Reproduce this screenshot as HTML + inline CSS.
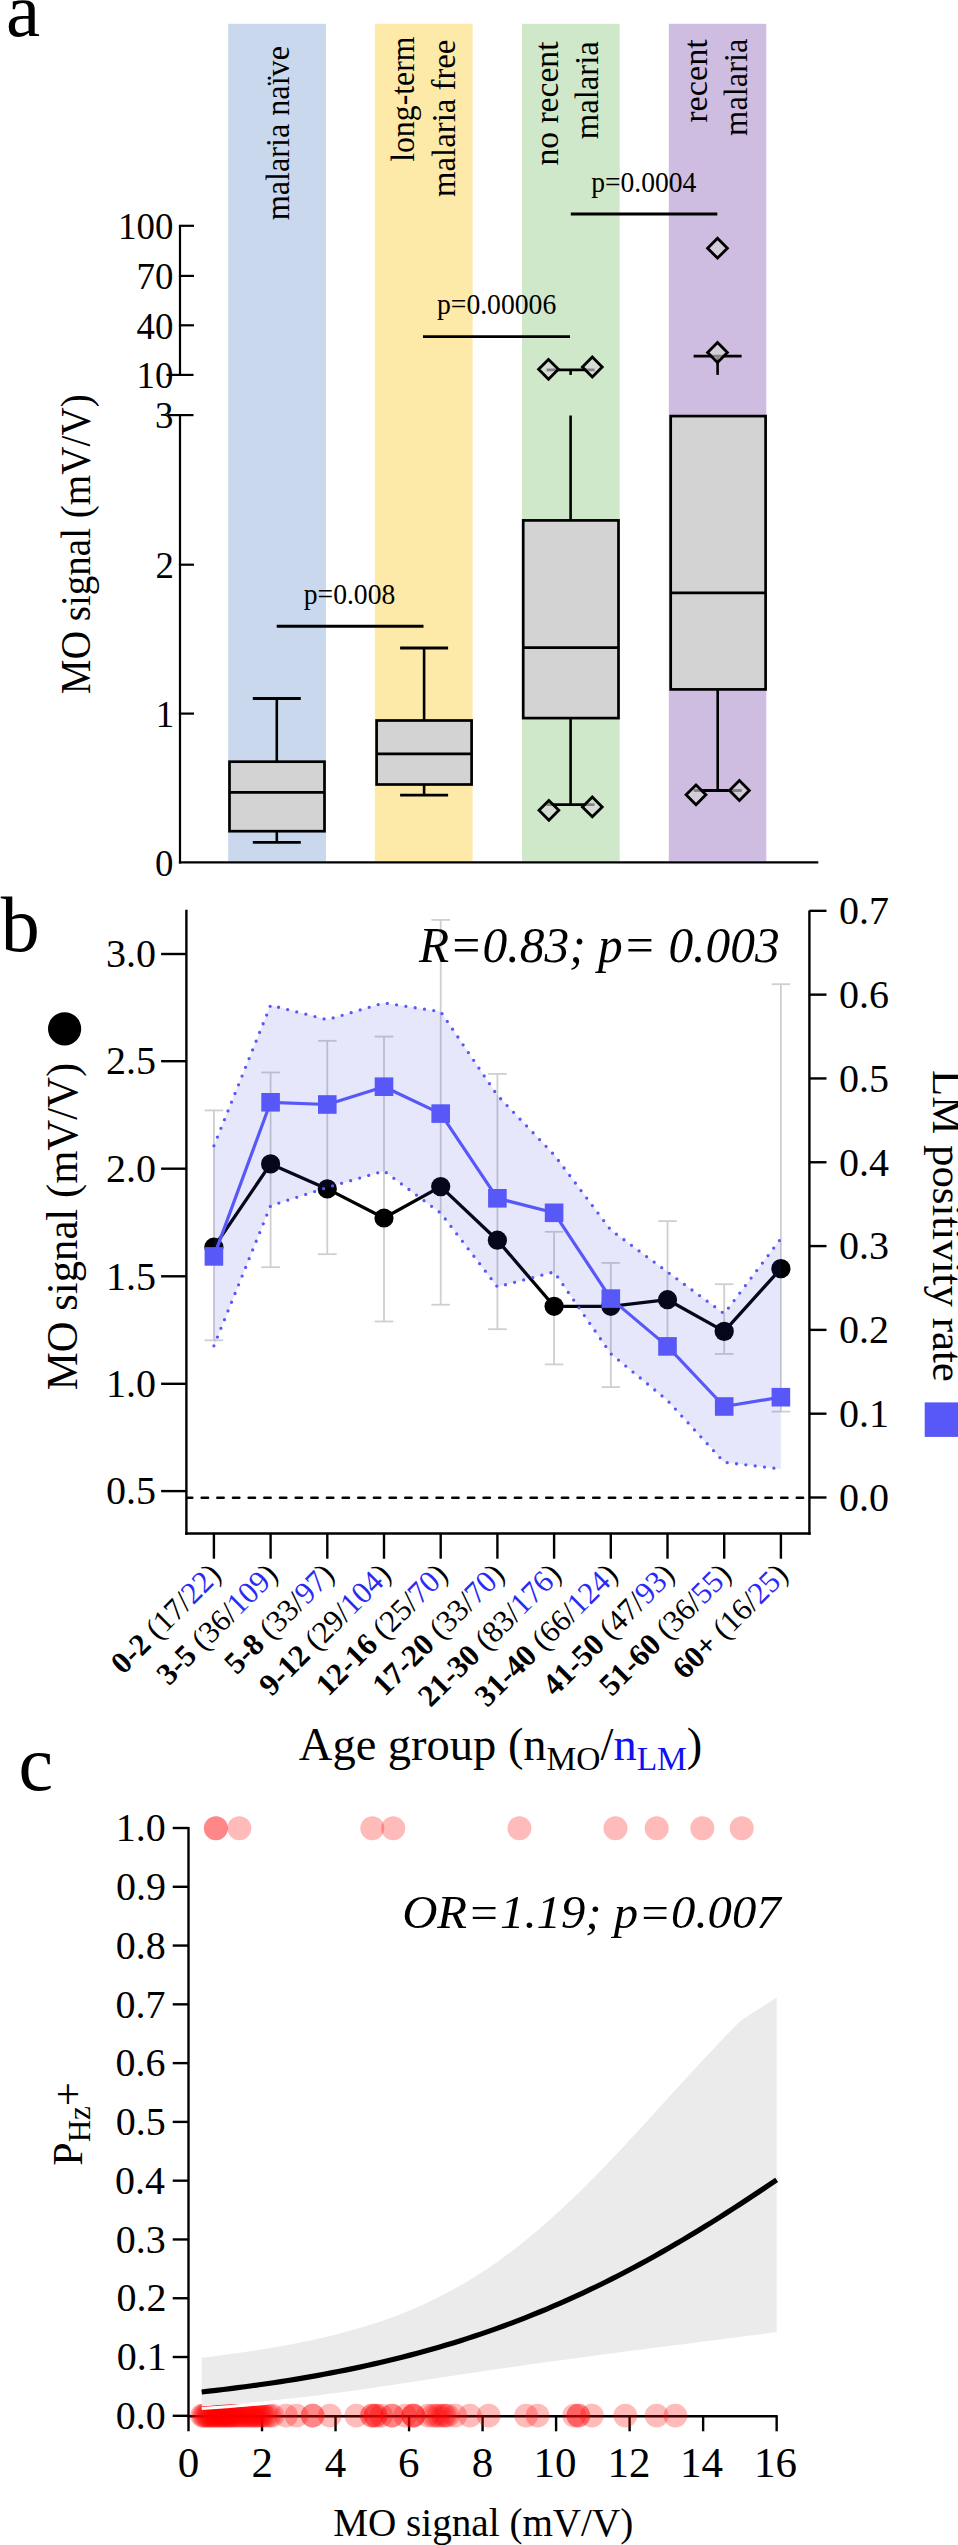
<!DOCTYPE html>
<html><head><meta charset="utf-8"><title>figure</title>
<style>
html,body{margin:0;padding:0;background:#fff;}
svg{display:block;}
text{font-family:"Liberation Serif",serif;font-kerning:none;}
</style></head><body>
<svg width="958" height="2545" viewBox="0 0 958 2545">
<rect width="958" height="2545" fill="#fff"/>
<rect x="228.20" y="23.80" width="97.80" height="837.50" fill="#c9d8ec"/>
<rect x="374.80" y="23.80" width="97.80" height="837.50" fill="#fdeaa8"/>
<rect x="522.00" y="23.80" width="97.70" height="837.50" fill="#cfe8c9"/>
<rect x="668.80" y="23.80" width="97.50" height="837.50" fill="#cebde0"/>
<text transform="translate(288.90,220.28) rotate(-90) scale(0.9332,1)" font-size="34.5"><tspan font-size="34.50">malaria naïve</tspan></text>
<text transform="translate(413.90,161.84) rotate(-90) scale(0.9213,1)" font-size="34.5"><tspan font-size="34.50">long-term</tspan></text>
<text transform="translate(454.60,196.89) rotate(-90) scale(0.9497,1)" font-size="34.5"><tspan font-size="34.50">malaria free</tspan></text>
<text transform="translate(557.90,165.57) rotate(-90) scale(0.9739,1)" font-size="34.5"><tspan font-size="34.50">no recent</tspan></text>
<text transform="translate(597.80,139.19) rotate(-90) scale(0.9468,1)" font-size="34.5"><tspan font-size="34.50">malaria</tspan></text>
<text transform="translate(706.90,122.79) rotate(-90) scale(0.9920,1)" font-size="34.5"><tspan font-size="34.50">recent</tspan></text>
<text transform="translate(747.30,135.88) rotate(-90) scale(0.9419,1)" font-size="34.5"><tspan font-size="34.50">malaria</tspan></text>
<text transform="translate(5.89,36.30)" font-size="77"><tspan font-size="77.00">a</tspan></text>
<line x1="180.00" y1="415.10" x2="180.00" y2="863.40" stroke="#000" stroke-width="2.2"/>
<line x1="180.00" y1="225.80" x2="180.00" y2="374.90" stroke="#000" stroke-width="2.2"/>
<line x1="178.90" y1="862.30" x2="818.30" y2="862.30" stroke="#000" stroke-width="2.2"/>
<line x1="178.90" y1="225.80" x2="194.00" y2="225.80" stroke="#000" stroke-width="2.2"/>
<line x1="178.90" y1="275.90" x2="194.00" y2="275.90" stroke="#000" stroke-width="2.2"/>
<line x1="178.90" y1="325.30" x2="194.00" y2="325.30" stroke="#000" stroke-width="2.2"/>
<line x1="166.50" y1="374.90" x2="193.50" y2="374.90" stroke="#000" stroke-width="2.2"/>
<line x1="167.50" y1="415.10" x2="193.50" y2="415.10" stroke="#000" stroke-width="2.2"/>
<line x1="178.90" y1="564.70" x2="194.00" y2="564.70" stroke="#000" stroke-width="2.2"/>
<line x1="178.90" y1="713.60" x2="194.00" y2="713.60" stroke="#000" stroke-width="2.2"/>
<text transform="translate(118.11,239.18) scale(0.9700,1)" font-size="38.0"><tspan font-size="38.00">100</tspan></text>
<text transform="translate(136.54,289.28) scale(0.9700,1)" font-size="38.0"><tspan font-size="38.00">70</tspan></text>
<text transform="translate(136.54,338.68) scale(0.9700,1)" font-size="38.0"><tspan font-size="38.00">40</tspan></text>
<text transform="translate(136.54,388.28) scale(0.9700,1)" font-size="38.0"><tspan font-size="38.00">10</tspan></text>
<text transform="translate(155.01,428.48) scale(0.9700,1)" font-size="38.0"><tspan font-size="38.00">3</tspan></text>
<text transform="translate(155.60,578.08) scale(0.9700,1)" font-size="38.0"><tspan font-size="38.00">2</tspan></text>
<text transform="translate(155.78,726.98) scale(0.9700,1)" font-size="38.0"><tspan font-size="38.00">1</tspan></text>
<text transform="translate(154.97,875.68) scale(0.9700,1)" font-size="38.0"><tspan font-size="38.00">0</tspan></text>
<text transform="translate(89.60,694.13) rotate(-90) scale(0.9160,1)" font-size="42.7"><tspan font-size="42.70">MO signal (mV/V)</tspan></text>
<line x1="276.80" y1="761.70" x2="276.80" y2="698.50" stroke="#000" stroke-width="2.6"/>
<line x1="252.80" y1="698.50" x2="300.80" y2="698.50" stroke="#000" stroke-width="2.8"/>
<line x1="276.80" y1="831.20" x2="276.80" y2="842.30" stroke="#000" stroke-width="2.6"/>
<line x1="252.80" y1="842.30" x2="300.80" y2="842.30" stroke="#000" stroke-width="2.8"/>
<rect x="229.50" y="761.70" width="95.00" height="69.50" fill="#d3d3d3" stroke="#000" stroke-width="2.7"/>
<line x1="229.50" y1="792.40" x2="324.50" y2="792.40" stroke="#000" stroke-width="2.7"/>
<line x1="424.10" y1="720.50" x2="424.10" y2="648.00" stroke="#000" stroke-width="2.6"/>
<line x1="400.10" y1="648.00" x2="448.10" y2="648.00" stroke="#000" stroke-width="2.8"/>
<line x1="424.10" y1="784.50" x2="424.10" y2="795.10" stroke="#000" stroke-width="2.6"/>
<line x1="400.10" y1="795.10" x2="448.10" y2="795.10" stroke="#000" stroke-width="2.8"/>
<rect x="376.60" y="720.50" width="95.00" height="64.00" fill="#d3d3d3" stroke="#000" stroke-width="2.7"/>
<line x1="376.60" y1="753.90" x2="471.60" y2="753.90" stroke="#000" stroke-width="2.7"/>
<line x1="570.60" y1="520.40" x2="570.60" y2="415.50" stroke="#000" stroke-width="2.6"/>
<line x1="570.60" y1="718.10" x2="570.60" y2="804.60" stroke="#000" stroke-width="2.6"/>
<line x1="546.60" y1="804.60" x2="594.60" y2="804.60" stroke="#000" stroke-width="2.8"/>
<rect x="523.20" y="520.40" width="95.30" height="197.70" fill="#d3d3d3" stroke="#000" stroke-width="2.7"/>
<line x1="523.20" y1="647.60" x2="618.50" y2="647.60" stroke="#000" stroke-width="2.7"/>
<line x1="570.60" y1="374.90" x2="570.60" y2="369.80" stroke="#000" stroke-width="2.6"/>
<line x1="546.60" y1="369.80" x2="594.60" y2="369.80" stroke="#000" stroke-width="2.8"/>
<path d="M548.50 359.40 L558.40 369.30 L548.50 379.20 L538.60 369.30 Z" fill="rgba(215,215,215,0.62)" stroke="#000" stroke-width="2.8" stroke-linejoin="miter"/>
<path d="M592.30 357.10 L602.20 367.00 L592.30 376.90 L582.40 367.00 Z" fill="rgba(215,215,215,0.62)" stroke="#000" stroke-width="2.8" stroke-linejoin="miter"/>
<path d="M548.90 800.40 L558.80 810.30 L548.90 820.20 L539.00 810.30 Z" fill="rgba(215,215,215,0.62)" stroke="#000" stroke-width="2.8" stroke-linejoin="miter"/>
<path d="M592.30 797.00 L602.20 806.90 L592.30 816.80 L582.40 806.90 Z" fill="rgba(215,215,215,0.62)" stroke="#000" stroke-width="2.8" stroke-linejoin="miter"/>
<line x1="717.70" y1="689.40" x2="717.70" y2="790.50" stroke="#000" stroke-width="2.6"/>
<line x1="693.70" y1="790.50" x2="741.70" y2="790.50" stroke="#000" stroke-width="2.8"/>
<rect x="670.70" y="416.10" width="94.90" height="273.30" fill="#d3d3d3" stroke="#000" stroke-width="2.7"/>
<line x1="670.70" y1="592.80" x2="765.60" y2="592.80" stroke="#000" stroke-width="2.7"/>
<line x1="717.60" y1="374.90" x2="717.60" y2="356.20" stroke="#000" stroke-width="2.6"/>
<line x1="693.60" y1="356.20" x2="741.60" y2="356.20" stroke="#000" stroke-width="2.8"/>
<path d="M717.50 342.60 L727.40 352.50 L717.50 362.40 L707.60 352.50 Z" fill="rgba(215,215,215,0.62)" stroke="#000" stroke-width="2.8" stroke-linejoin="miter"/>
<path d="M717.50 238.30 L727.40 248.20 L717.50 258.10 L707.60 248.20 Z" fill="rgba(215,215,215,0.62)" stroke="#000" stroke-width="2.8" stroke-linejoin="miter"/>
<path d="M696.00 784.90 L705.90 794.80 L696.00 804.70 L686.10 794.80 Z" fill="rgba(215,215,215,0.62)" stroke="#000" stroke-width="2.8" stroke-linejoin="miter"/>
<path d="M739.40 780.60 L749.30 790.50 L739.40 800.40 L729.50 790.50 Z" fill="rgba(215,215,215,0.62)" stroke="#000" stroke-width="2.8" stroke-linejoin="miter"/>
<line x1="276.70" y1="626.20" x2="423.50" y2="626.20" stroke="#000" stroke-width="2.9"/>
<line x1="423.00" y1="336.60" x2="570.00" y2="336.60" stroke="#000" stroke-width="2.9"/>
<line x1="570.80" y1="214.00" x2="717.30" y2="214.00" stroke="#000" stroke-width="2.9"/>
<text transform="translate(303.75,604.20) scale(0.9213,1)" font-size="30"><tspan font-size="30.00">p=0.008</tspan></text>
<text transform="translate(436.95,313.60) scale(0.9224,1)" font-size="30"><tspan font-size="30.00">p=0.00006</tspan></text>
<text transform="translate(591.26,191.50) scale(0.9192,1)" font-size="30"><tspan font-size="30.00">p=0.0004</tspan></text>
<text transform="translate(0.80,951.20)" font-size="78"><tspan font-size="78.00">b</tspan></text>
<line x1="213.90" y1="1110.40" x2="213.90" y2="1340.30" stroke="#cfcfcf" stroke-width="1.8"/>
<line x1="204.60" y1="1110.40" x2="223.20" y2="1110.40" stroke="#cfcfcf" stroke-width="1.8"/>
<line x1="204.60" y1="1340.30" x2="223.20" y2="1340.30" stroke="#cfcfcf" stroke-width="1.8"/>
<line x1="270.60" y1="1072.50" x2="270.60" y2="1267.20" stroke="#cfcfcf" stroke-width="1.8"/>
<line x1="261.30" y1="1072.50" x2="279.90" y2="1072.50" stroke="#cfcfcf" stroke-width="1.8"/>
<line x1="261.30" y1="1267.20" x2="279.90" y2="1267.20" stroke="#cfcfcf" stroke-width="1.8"/>
<line x1="327.30" y1="1040.80" x2="327.30" y2="1254.20" stroke="#cfcfcf" stroke-width="1.8"/>
<line x1="318.00" y1="1040.80" x2="336.60" y2="1040.80" stroke="#cfcfcf" stroke-width="1.8"/>
<line x1="318.00" y1="1254.20" x2="336.60" y2="1254.20" stroke="#cfcfcf" stroke-width="1.8"/>
<line x1="384.00" y1="1036.60" x2="384.00" y2="1321.50" stroke="#cfcfcf" stroke-width="1.8"/>
<line x1="374.70" y1="1036.60" x2="393.30" y2="1036.60" stroke="#cfcfcf" stroke-width="1.8"/>
<line x1="374.70" y1="1321.50" x2="393.30" y2="1321.50" stroke="#cfcfcf" stroke-width="1.8"/>
<line x1="440.70" y1="919.90" x2="440.70" y2="1304.70" stroke="#cfcfcf" stroke-width="1.8"/>
<line x1="431.40" y1="919.90" x2="450.00" y2="919.90" stroke="#cfcfcf" stroke-width="1.8"/>
<line x1="431.40" y1="1304.70" x2="450.00" y2="1304.70" stroke="#cfcfcf" stroke-width="1.8"/>
<line x1="497.40" y1="1073.90" x2="497.40" y2="1329.20" stroke="#cfcfcf" stroke-width="1.8"/>
<line x1="488.10" y1="1073.90" x2="506.70" y2="1073.90" stroke="#cfcfcf" stroke-width="1.8"/>
<line x1="488.10" y1="1329.20" x2="506.70" y2="1329.20" stroke="#cfcfcf" stroke-width="1.8"/>
<line x1="554.10" y1="1231.80" x2="554.10" y2="1364.40" stroke="#cfcfcf" stroke-width="1.8"/>
<line x1="544.80" y1="1231.80" x2="563.40" y2="1231.80" stroke="#cfcfcf" stroke-width="1.8"/>
<line x1="544.80" y1="1364.40" x2="563.40" y2="1364.40" stroke="#cfcfcf" stroke-width="1.8"/>
<line x1="610.80" y1="1262.90" x2="610.80" y2="1387.10" stroke="#cfcfcf" stroke-width="1.8"/>
<line x1="601.50" y1="1262.90" x2="620.10" y2="1262.90" stroke="#cfcfcf" stroke-width="1.8"/>
<line x1="601.50" y1="1387.10" x2="620.10" y2="1387.10" stroke="#cfcfcf" stroke-width="1.8"/>
<line x1="667.50" y1="1221.10" x2="667.50" y2="1346.00" stroke="#cfcfcf" stroke-width="1.8"/>
<line x1="658.20" y1="1221.10" x2="676.80" y2="1221.10" stroke="#cfcfcf" stroke-width="1.8"/>
<line x1="658.20" y1="1346.00" x2="676.80" y2="1346.00" stroke="#cfcfcf" stroke-width="1.8"/>
<line x1="724.20" y1="1284.20" x2="724.20" y2="1353.90" stroke="#cfcfcf" stroke-width="1.8"/>
<line x1="714.90" y1="1284.20" x2="733.50" y2="1284.20" stroke="#cfcfcf" stroke-width="1.8"/>
<line x1="714.90" y1="1353.90" x2="733.50" y2="1353.90" stroke="#cfcfcf" stroke-width="1.8"/>
<line x1="780.90" y1="984.20" x2="780.90" y2="1411.60" stroke="#cfcfcf" stroke-width="1.8"/>
<line x1="771.60" y1="984.20" x2="790.20" y2="984.20" stroke="#cfcfcf" stroke-width="1.8"/>
<line x1="771.60" y1="1411.60" x2="790.20" y2="1411.60" stroke="#cfcfcf" stroke-width="1.8"/>
<text transform="translate(419.07,962.20) scale(0.9789,1)" font-size="50.5"><tspan font-size="50.50" font-style="italic">R=0.83; p= 0.003</tspan></text>
<polyline points="213.90,1247.20 270.60,1163.90 327.30,1188.90 384.00,1218.00 440.70,1186.60 497.40,1240.20 554.10,1306.30 610.80,1306.30 667.50,1299.70 724.20,1331.40 780.90,1268.60" fill="none" stroke="#000" stroke-width="3.3" stroke-linejoin="round"/>
<circle cx="213.90" cy="1247.20" r="9.6" fill="#000"/>
<circle cx="270.60" cy="1163.90" r="9.6" fill="#000"/>
<circle cx="327.30" cy="1188.90" r="9.6" fill="#000"/>
<circle cx="384.00" cy="1218.00" r="9.6" fill="#000"/>
<circle cx="440.70" cy="1186.60" r="9.6" fill="#000"/>
<circle cx="497.40" cy="1240.20" r="9.6" fill="#000"/>
<circle cx="554.10" cy="1306.30" r="9.6" fill="#000"/>
<circle cx="610.80" cy="1306.30" r="9.6" fill="#000"/>
<circle cx="667.50" cy="1299.70" r="9.6" fill="#000"/>
<circle cx="724.20" cy="1331.40" r="9.6" fill="#000"/>
<circle cx="780.90" cy="1268.60" r="9.6" fill="#000"/>
<polygon points="213.90,1145.80 270.60,1005.20 327.30,1019.70 384.00,1002.90 440.70,1011.70 497.40,1095.40 554.10,1154.80 610.80,1230.00 667.50,1272.00 724.20,1313.70 780.90,1238.50 780.90,1469.00 724.20,1462.30 667.50,1400.50 610.80,1353.70 554.10,1271.90 497.40,1286.90 440.70,1213.10 384.00,1171.00 327.30,1187.50 270.60,1205.70 213.90,1345.80" fill="rgb(60,60,230)" fill-opacity="0.12"/>
<polyline points="213.90,1145.80 270.60,1005.20 327.30,1019.70 384.00,1002.90 440.70,1011.70 497.40,1095.40 554.10,1154.80 610.80,1230.00 667.50,1272.00 724.20,1313.70 780.90,1238.50" fill="none" stroke="#5858f8" stroke-width="3.3" stroke-linecap="round" stroke-dasharray="0 9.4"/>
<polyline points="213.90,1345.80 270.60,1205.70 327.30,1187.50 384.00,1171.00 440.70,1213.10 497.40,1286.90 554.10,1271.90 610.80,1353.70 667.50,1400.50 724.20,1462.30 780.90,1469.00" fill="none" stroke="#5858f8" stroke-width="3.3" stroke-linecap="round" stroke-dasharray="0 9.4"/>
<polyline points="213.90,1256.40 270.60,1102.30 327.30,1104.50 384.00,1086.70 440.70,1113.60 497.40,1198.30 554.10,1212.80 610.80,1298.60 667.50,1346.40 724.20,1406.50 780.90,1397.20" fill="none" stroke="#5858f8" stroke-width="3.2" stroke-linejoin="round"/>
<rect x="204.60" y="1247.10" width="18.60" height="18.60" fill="#5858f8"/>
<rect x="261.30" y="1093.00" width="18.60" height="18.60" fill="#5858f8"/>
<rect x="318.00" y="1095.20" width="18.60" height="18.60" fill="#5858f8"/>
<rect x="374.70" y="1077.40" width="18.60" height="18.60" fill="#5858f8"/>
<rect x="431.40" y="1104.30" width="18.60" height="18.60" fill="#5858f8"/>
<rect x="488.10" y="1189.00" width="18.60" height="18.60" fill="#5858f8"/>
<rect x="544.80" y="1203.50" width="18.60" height="18.60" fill="#5858f8"/>
<rect x="601.50" y="1289.30" width="18.60" height="18.60" fill="#5858f8"/>
<rect x="658.20" y="1337.10" width="18.60" height="18.60" fill="#5858f8"/>
<rect x="714.90" y="1397.20" width="18.60" height="18.60" fill="#5858f8"/>
<rect x="771.60" y="1387.90" width="18.60" height="18.60" fill="#5858f8"/>
<line x1="188.00" y1="1497.70" x2="803.50" y2="1497.70" stroke="#000" stroke-width="2.6" stroke-dasharray="6.3 9.36" stroke-linecap="round" stroke-dashoffset="1.96"/>
<line x1="186.40" y1="909.70" x2="186.40" y2="1534.70" stroke="#000" stroke-width="2.4"/>
<line x1="809.40" y1="910.60" x2="809.40" y2="1534.70" stroke="#000" stroke-width="2.4"/>
<line x1="185.20" y1="1533.50" x2="810.60" y2="1533.50" stroke="#000" stroke-width="2.5"/>
<line x1="161.10" y1="954.00" x2="186.40" y2="954.00" stroke="#000" stroke-width="2.4"/>
<line x1="161.10" y1="1061.20" x2="186.40" y2="1061.20" stroke="#000" stroke-width="2.4"/>
<line x1="161.10" y1="1168.70" x2="186.40" y2="1168.70" stroke="#000" stroke-width="2.4"/>
<line x1="161.10" y1="1276.30" x2="186.40" y2="1276.30" stroke="#000" stroke-width="2.4"/>
<line x1="161.10" y1="1383.80" x2="186.40" y2="1383.80" stroke="#000" stroke-width="2.4"/>
<line x1="161.10" y1="1491.10" x2="186.40" y2="1491.10" stroke="#000" stroke-width="2.4"/>
<line x1="809.40" y1="1497.50" x2="826.50" y2="1497.50" stroke="#000" stroke-width="2.4"/>
<line x1="809.40" y1="1413.69" x2="826.50" y2="1413.69" stroke="#000" stroke-width="2.4"/>
<line x1="809.40" y1="1329.88" x2="826.50" y2="1329.88" stroke="#000" stroke-width="2.4"/>
<line x1="809.40" y1="1246.07" x2="826.50" y2="1246.07" stroke="#000" stroke-width="2.4"/>
<line x1="809.40" y1="1162.26" x2="826.50" y2="1162.26" stroke="#000" stroke-width="2.4"/>
<line x1="809.40" y1="1078.45" x2="826.50" y2="1078.45" stroke="#000" stroke-width="2.4"/>
<line x1="809.40" y1="994.64" x2="826.50" y2="994.64" stroke="#000" stroke-width="2.4"/>
<line x1="809.40" y1="910.83" x2="826.50" y2="910.83" stroke="#000" stroke-width="2.4"/>
<line x1="213.90" y1="1533.50" x2="213.90" y2="1558.70" stroke="#000" stroke-width="2.4"/>
<line x1="270.60" y1="1533.50" x2="270.60" y2="1558.70" stroke="#000" stroke-width="2.4"/>
<line x1="327.30" y1="1533.50" x2="327.30" y2="1558.70" stroke="#000" stroke-width="2.4"/>
<line x1="384.00" y1="1533.50" x2="384.00" y2="1558.70" stroke="#000" stroke-width="2.4"/>
<line x1="440.70" y1="1533.50" x2="440.70" y2="1558.70" stroke="#000" stroke-width="2.4"/>
<line x1="497.40" y1="1533.50" x2="497.40" y2="1558.70" stroke="#000" stroke-width="2.4"/>
<line x1="554.10" y1="1533.50" x2="554.10" y2="1558.70" stroke="#000" stroke-width="2.4"/>
<line x1="610.80" y1="1533.50" x2="610.80" y2="1558.70" stroke="#000" stroke-width="2.4"/>
<line x1="667.50" y1="1533.50" x2="667.50" y2="1558.70" stroke="#000" stroke-width="2.4"/>
<line x1="724.20" y1="1533.50" x2="724.20" y2="1558.70" stroke="#000" stroke-width="2.4"/>
<line x1="780.90" y1="1533.50" x2="780.90" y2="1558.70" stroke="#000" stroke-width="2.4"/>
<text transform="translate(105.92,967.24)" font-size="40"><tspan font-size="40.00">3.0</tspan></text>
<text transform="translate(105.96,1074.44)" font-size="40"><tspan font-size="40.00">2.5</tspan></text>
<text transform="translate(105.92,1181.94)" font-size="40"><tspan font-size="40.00">2.0</tspan></text>
<text transform="translate(105.96,1289.54)" font-size="40"><tspan font-size="40.00">1.5</tspan></text>
<text transform="translate(105.92,1397.04)" font-size="40"><tspan font-size="40.00">1.0</tspan></text>
<text transform="translate(105.96,1504.34)" font-size="40"><tspan font-size="40.00">0.5</tspan></text>
<text transform="translate(838.98,1510.74)" font-size="40"><tspan font-size="40.00">0.0</tspan></text>
<text transform="translate(838.98,1426.93)" font-size="40"><tspan font-size="40.00">0.1</tspan></text>
<text transform="translate(838.98,1343.12)" font-size="40"><tspan font-size="40.00">0.2</tspan></text>
<text transform="translate(838.98,1259.31)" font-size="40"><tspan font-size="40.00">0.3</tspan></text>
<text transform="translate(838.98,1175.50)" font-size="40"><tspan font-size="40.00">0.4</tspan></text>
<text transform="translate(838.98,1091.69)" font-size="40"><tspan font-size="40.00">0.5</tspan></text>
<text transform="translate(838.98,1007.88)" font-size="40"><tspan font-size="40.00">0.6</tspan></text>
<text transform="translate(838.98,924.07)" font-size="40"><tspan font-size="40.00">0.7</tspan></text>
<text transform="translate(76.90,1390.33) rotate(-90) scale(0.9821,1)" font-size="43.5"><tspan font-size="43.50">MO signal (mV/V)</tspan></text>
<circle cx="64.6" cy="1028.8" r="16.6" fill="#000"/>
<text transform="translate(932.60,1069.97) rotate(90) scale(1.0015,1)" font-size="42.8"><tspan font-size="42.80">LM positivity rate</tspan></text>
<rect x="924.70" y="1402.40" width="34.50" height="34.50" fill="#5858f8"/>
<text transform="translate(222.50,1576.20) rotate(-45) translate(-140.33,0)" font-size="31.0"><tspan font-size="31.00" font-weight="bold">0-2</tspan><tspan font-size="31.00"> (17/</tspan><tspan font-size="31.00" fill="#2a2af5">22</tspan><tspan font-size="31.00">)</tspan></text>
<text transform="translate(279.20,1576.20) rotate(-45) translate(-155.83,0)" font-size="31.0"><tspan font-size="31.00" font-weight="bold">3-5</tspan><tspan font-size="31.00"> (36/</tspan><tspan font-size="31.00" fill="#2a2af5">109</tspan><tspan font-size="31.00">)</tspan></text>
<text transform="translate(335.90,1576.20) rotate(-45) translate(-140.33,0)" font-size="31.0"><tspan font-size="31.00" font-weight="bold">5-8</tspan><tspan font-size="31.00"> (33/</tspan><tspan font-size="31.00" fill="#2a2af5">97</tspan><tspan font-size="31.00">)</tspan></text>
<text transform="translate(392.60,1576.20) rotate(-45) translate(-171.33,0)" font-size="31.0"><tspan font-size="31.00" font-weight="bold">9-12</tspan><tspan font-size="31.00"> (29/</tspan><tspan font-size="31.00" fill="#2a2af5">104</tspan><tspan font-size="31.00">)</tspan></text>
<text transform="translate(449.30,1576.20) rotate(-45) translate(-171.33,0)" font-size="31.0"><tspan font-size="31.00" font-weight="bold">12-16</tspan><tspan font-size="31.00"> (25/</tspan><tspan font-size="31.00" fill="#2a2af5">70</tspan><tspan font-size="31.00">)</tspan></text>
<text transform="translate(506.00,1576.20) rotate(-45) translate(-171.33,0)" font-size="31.0"><tspan font-size="31.00" font-weight="bold">17-20</tspan><tspan font-size="31.00"> (33/</tspan><tspan font-size="31.00" fill="#2a2af5">70</tspan><tspan font-size="31.00">)</tspan></text>
<text transform="translate(562.70,1576.20) rotate(-45) translate(-186.83,0)" font-size="31.0"><tspan font-size="31.00" font-weight="bold">21-30</tspan><tspan font-size="31.00"> (83/</tspan><tspan font-size="31.00" fill="#2a2af5">176</tspan><tspan font-size="31.00">)</tspan></text>
<text transform="translate(619.40,1576.20) rotate(-45) translate(-186.83,0)" font-size="31.0"><tspan font-size="31.00" font-weight="bold">31-40</tspan><tspan font-size="31.00"> (66/</tspan><tspan font-size="31.00" fill="#2a2af5">124</tspan><tspan font-size="31.00">)</tspan></text>
<text transform="translate(676.10,1576.20) rotate(-45) translate(-171.33,0)" font-size="31.0"><tspan font-size="31.00" font-weight="bold">41-50</tspan><tspan font-size="31.00"> (47/</tspan><tspan font-size="31.00" fill="#2a2af5">93</tspan><tspan font-size="31.00">)</tspan></text>
<text transform="translate(732.80,1576.20) rotate(-45) translate(-171.33,0)" font-size="31.0"><tspan font-size="31.00" font-weight="bold">51-60</tspan><tspan font-size="31.00"> (36/</tspan><tspan font-size="31.00" fill="#2a2af5">55</tspan><tspan font-size="31.00">)</tspan></text>
<text transform="translate(789.50,1576.20) rotate(-45) translate(-147.67,0)" font-size="31.0"><tspan font-size="31.00" font-weight="bold">60+</tspan><tspan font-size="31.00"> (16/</tspan><tspan font-size="31.00" fill="#2a2af5">25</tspan><tspan font-size="31.00">)</tspan></text>
<text transform="translate(298.85,1759.60) scale(1.0037,1)" font-size="46.3"><tspan font-size="46.30">Age group (n</tspan><tspan font-size="33.34" dy="10.00">MO</tspan><tspan font-size="46.30" dy="-10.00">/</tspan><tspan font-size="46.30" fill="#1010f0">n</tspan><tspan font-size="33.34" fill="#1010f0" dy="10.00">LM</tspan><tspan font-size="46.30" dy="-10.00">)</tspan></text>
<text transform="translate(18.43,1790.20)" font-size="78"><tspan font-size="78.00">c</tspan></text>
<line x1="188.50" y1="1827.00" x2="188.50" y2="2431.30" stroke="#000" stroke-width="2.4"/>
<line x1="187.30" y1="2416.20" x2="777.70" y2="2416.20" stroke="#000" stroke-width="2.4"/>
<line x1="172.70" y1="2415.80" x2="188.50" y2="2415.80" stroke="#000" stroke-width="2.4"/>
<line x1="172.70" y1="2357.02" x2="188.50" y2="2357.02" stroke="#000" stroke-width="2.4"/>
<line x1="172.70" y1="2298.24" x2="188.50" y2="2298.24" stroke="#000" stroke-width="2.4"/>
<line x1="172.70" y1="2239.46" x2="188.50" y2="2239.46" stroke="#000" stroke-width="2.4"/>
<line x1="172.70" y1="2180.68" x2="188.50" y2="2180.68" stroke="#000" stroke-width="2.4"/>
<line x1="172.70" y1="2121.90" x2="188.50" y2="2121.90" stroke="#000" stroke-width="2.4"/>
<line x1="172.70" y1="2063.12" x2="188.50" y2="2063.12" stroke="#000" stroke-width="2.4"/>
<line x1="172.70" y1="2004.34" x2="188.50" y2="2004.34" stroke="#000" stroke-width="2.4"/>
<line x1="172.70" y1="1945.56" x2="188.50" y2="1945.56" stroke="#000" stroke-width="2.4"/>
<line x1="172.70" y1="1886.78" x2="188.50" y2="1886.78" stroke="#000" stroke-width="2.4"/>
<line x1="172.70" y1="1828.00" x2="188.50" y2="1828.00" stroke="#000" stroke-width="2.4"/>
<line x1="262.02" y1="2416.20" x2="262.02" y2="2431.30" stroke="#000" stroke-width="2.4"/>
<line x1="335.54" y1="2416.20" x2="335.54" y2="2431.30" stroke="#000" stroke-width="2.4"/>
<line x1="409.06" y1="2416.20" x2="409.06" y2="2431.30" stroke="#000" stroke-width="2.4"/>
<line x1="482.58" y1="2416.20" x2="482.58" y2="2431.30" stroke="#000" stroke-width="2.4"/>
<line x1="556.10" y1="2416.20" x2="556.10" y2="2431.30" stroke="#000" stroke-width="2.4"/>
<line x1="629.62" y1="2416.20" x2="629.62" y2="2431.30" stroke="#000" stroke-width="2.4"/>
<line x1="703.14" y1="2416.20" x2="703.14" y2="2431.30" stroke="#000" stroke-width="2.4"/>
<line x1="776.66" y1="2416.20" x2="776.66" y2="2431.30" stroke="#000" stroke-width="2.4"/>
<circle cx="202.00" cy="2415.6" r="11.9" fill="rgba(255,0,0,0.27)"/>
<circle cx="203.50" cy="2415.6" r="11.9" fill="rgba(255,0,0,0.27)"/>
<circle cx="205.00" cy="2415.6" r="11.9" fill="rgba(255,0,0,0.27)"/>
<circle cx="206.50" cy="2415.6" r="11.9" fill="rgba(255,0,0,0.27)"/>
<circle cx="208.00" cy="2415.6" r="11.9" fill="rgba(255,0,0,0.27)"/>
<circle cx="209.50" cy="2415.6" r="11.9" fill="rgba(255,0,0,0.27)"/>
<circle cx="211.00" cy="2415.6" r="11.9" fill="rgba(255,0,0,0.27)"/>
<circle cx="212.50" cy="2415.6" r="11.9" fill="rgba(255,0,0,0.27)"/>
<circle cx="214.00" cy="2415.6" r="11.9" fill="rgba(255,0,0,0.27)"/>
<circle cx="215.50" cy="2415.6" r="11.9" fill="rgba(255,0,0,0.27)"/>
<circle cx="217.00" cy="2415.6" r="11.9" fill="rgba(255,0,0,0.27)"/>
<circle cx="218.50" cy="2415.6" r="11.9" fill="rgba(255,0,0,0.27)"/>
<circle cx="220.00" cy="2415.6" r="11.9" fill="rgba(255,0,0,0.27)"/>
<circle cx="221.50" cy="2415.6" r="11.9" fill="rgba(255,0,0,0.27)"/>
<circle cx="223.00" cy="2415.6" r="11.9" fill="rgba(255,0,0,0.27)"/>
<circle cx="224.50" cy="2415.6" r="11.9" fill="rgba(255,0,0,0.27)"/>
<circle cx="226.00" cy="2415.6" r="11.9" fill="rgba(255,0,0,0.27)"/>
<circle cx="227.50" cy="2415.6" r="11.9" fill="rgba(255,0,0,0.27)"/>
<circle cx="229.00" cy="2415.6" r="11.9" fill="rgba(255,0,0,0.27)"/>
<circle cx="230.50" cy="2415.6" r="11.9" fill="rgba(255,0,0,0.27)"/>
<circle cx="232.00" cy="2415.6" r="11.9" fill="rgba(255,0,0,0.27)"/>
<circle cx="233.50" cy="2415.6" r="11.9" fill="rgba(255,0,0,0.27)"/>
<circle cx="235.50" cy="2415.6" r="11.9" fill="rgba(255,0,0,0.27)"/>
<circle cx="237.50" cy="2415.6" r="11.9" fill="rgba(255,0,0,0.27)"/>
<circle cx="239.50" cy="2415.6" r="11.9" fill="rgba(255,0,0,0.27)"/>
<circle cx="241.50" cy="2415.6" r="11.9" fill="rgba(255,0,0,0.27)"/>
<circle cx="243.50" cy="2415.6" r="11.9" fill="rgba(255,0,0,0.27)"/>
<circle cx="245.50" cy="2415.6" r="11.9" fill="rgba(255,0,0,0.27)"/>
<circle cx="247.50" cy="2415.6" r="11.9" fill="rgba(255,0,0,0.27)"/>
<circle cx="249.50" cy="2415.6" r="11.9" fill="rgba(255,0,0,0.27)"/>
<circle cx="251.50" cy="2415.6" r="11.9" fill="rgba(255,0,0,0.27)"/>
<circle cx="253.50" cy="2415.6" r="11.9" fill="rgba(255,0,0,0.27)"/>
<circle cx="255.50" cy="2415.6" r="11.9" fill="rgba(255,0,0,0.27)"/>
<circle cx="257.50" cy="2415.6" r="11.9" fill="rgba(255,0,0,0.27)"/>
<circle cx="259.50" cy="2415.6" r="11.9" fill="rgba(255,0,0,0.27)"/>
<circle cx="261.50" cy="2415.6" r="11.9" fill="rgba(255,0,0,0.27)"/>
<circle cx="263.50" cy="2415.6" r="11.9" fill="rgba(255,0,0,0.27)"/>
<circle cx="266.50" cy="2415.6" r="11.9" fill="rgba(255,0,0,0.27)"/>
<circle cx="269.50" cy="2415.6" r="11.9" fill="rgba(255,0,0,0.27)"/>
<circle cx="272.50" cy="2415.6" r="11.9" fill="rgba(255,0,0,0.27)"/>
<circle cx="286.00" cy="2415.6" r="11.9" fill="rgba(255,0,0,0.27)"/>
<circle cx="296.50" cy="2415.6" r="11.9" fill="rgba(255,0,0,0.27)"/>
<circle cx="312.60" cy="2415.6" r="11.9" fill="rgba(255,0,0,0.27)"/>
<circle cx="312.60" cy="2415.6" r="11.9" fill="rgba(255,0,0,0.27)"/>
<circle cx="329.90" cy="2415.6" r="11.9" fill="rgba(255,0,0,0.27)"/>
<circle cx="356.30" cy="2415.6" r="11.9" fill="rgba(255,0,0,0.27)"/>
<circle cx="372.00" cy="2415.6" r="11.9" fill="rgba(255,0,0,0.27)"/>
<circle cx="372.00" cy="2415.6" r="11.9" fill="rgba(255,0,0,0.27)"/>
<circle cx="375.70" cy="2415.6" r="11.9" fill="rgba(255,0,0,0.27)"/>
<circle cx="375.70" cy="2415.6" r="11.9" fill="rgba(255,0,0,0.27)"/>
<circle cx="381.30" cy="2415.6" r="11.9" fill="rgba(255,0,0,0.27)"/>
<circle cx="392.00" cy="2415.6" r="11.9" fill="rgba(255,0,0,0.27)"/>
<circle cx="392.00" cy="2415.6" r="11.9" fill="rgba(255,0,0,0.27)"/>
<circle cx="405.10" cy="2415.6" r="11.9" fill="rgba(255,0,0,0.27)"/>
<circle cx="413.30" cy="2415.6" r="11.9" fill="rgba(255,0,0,0.27)"/>
<circle cx="413.30" cy="2415.6" r="11.9" fill="rgba(255,0,0,0.27)"/>
<circle cx="413.30" cy="2415.6" r="11.9" fill="rgba(255,0,0,0.27)"/>
<circle cx="427.70" cy="2415.6" r="11.9" fill="rgba(255,0,0,0.27)"/>
<circle cx="432.70" cy="2415.6" r="11.9" fill="rgba(255,0,0,0.27)"/>
<circle cx="436.00" cy="2415.6" r="11.9" fill="rgba(255,0,0,0.27)"/>
<circle cx="439.00" cy="2415.6" r="11.9" fill="rgba(255,0,0,0.27)"/>
<circle cx="442.70" cy="2415.6" r="11.9" fill="rgba(255,0,0,0.27)"/>
<circle cx="445.00" cy="2415.6" r="11.9" fill="rgba(255,0,0,0.27)"/>
<circle cx="447.70" cy="2415.6" r="11.9" fill="rgba(255,0,0,0.27)"/>
<circle cx="455.20" cy="2415.6" r="11.9" fill="rgba(255,0,0,0.27)"/>
<circle cx="469.90" cy="2415.6" r="11.9" fill="rgba(255,0,0,0.27)"/>
<circle cx="488.70" cy="2415.6" r="11.9" fill="rgba(255,0,0,0.27)"/>
<circle cx="526.10" cy="2415.6" r="11.9" fill="rgba(255,0,0,0.27)"/>
<circle cx="537.60" cy="2415.6" r="11.9" fill="rgba(255,0,0,0.27)"/>
<circle cx="574.10" cy="2415.6" r="11.9" fill="rgba(255,0,0,0.27)"/>
<circle cx="578.30" cy="2415.6" r="11.9" fill="rgba(255,0,0,0.27)"/>
<circle cx="578.30" cy="2415.6" r="11.9" fill="rgba(255,0,0,0.27)"/>
<circle cx="591.90" cy="2415.6" r="11.9" fill="rgba(255,0,0,0.27)"/>
<circle cx="625.30" cy="2415.6" r="11.9" fill="rgba(255,0,0,0.27)"/>
<circle cx="656.60" cy="2415.6" r="11.9" fill="rgba(255,0,0,0.27)"/>
<circle cx="675.40" cy="2415.6" r="11.9" fill="rgba(255,0,0,0.27)"/>
<circle cx="215.90" cy="1828.3" r="12.0" fill="rgba(255,0,0,0.27)"/>
<circle cx="215.90" cy="1828.3" r="12.0" fill="rgba(255,0,0,0.27)"/>
<circle cx="239.30" cy="1828.3" r="12.0" fill="rgba(255,0,0,0.27)"/>
<circle cx="372.30" cy="1828.3" r="12.0" fill="rgba(255,0,0,0.27)"/>
<circle cx="393.20" cy="1828.3" r="12.0" fill="rgba(255,0,0,0.27)"/>
<circle cx="519.40" cy="1828.3" r="12.0" fill="rgba(255,0,0,0.27)"/>
<circle cx="615.50" cy="1828.3" r="12.0" fill="rgba(255,0,0,0.27)"/>
<circle cx="656.70" cy="1828.3" r="12.0" fill="rgba(255,0,0,0.27)"/>
<circle cx="702.30" cy="1828.3" r="12.0" fill="rgba(255,0,0,0.27)"/>
<circle cx="741.70" cy="1828.3" r="12.0" fill="rgba(255,0,0,0.27)"/>
<polygon points="201.70,2357.81 208.89,2356.93 216.07,2356.02 223.26,2355.07 230.45,2354.10 237.63,2353.10 244.82,2352.05 252.01,2350.98 259.20,2349.86 266.38,2348.69 273.57,2347.48 280.76,2346.22 287.94,2344.91 295.13,2343.55 302.32,2342.12 309.50,2340.63 316.69,2339.07 323.88,2337.44 331.07,2335.73 338.25,2333.94 345.44,2332.06 352.63,2330.09 359.81,2328.02 367.00,2325.85 374.19,2323.56 381.38,2321.16 388.56,2318.64 395.75,2315.99 402.94,2313.20 410.12,2310.28 417.31,2307.21 424.50,2303.98 431.68,2300.60 438.87,2297.06 446.06,2293.36 453.24,2289.48 460.43,2285.42 467.62,2281.19 474.81,2276.78 481.99,2272.18 489.18,2267.40 496.37,2262.43 503.55,2257.28 510.74,2251.94 517.93,2246.42 525.12,2240.71 532.30,2234.82 539.49,2228.75 546.68,2222.51 553.86,2216.11 561.05,2209.53 568.24,2202.80 575.42,2195.92 582.61,2188.90 589.80,2181.74 596.99,2174.46 604.17,2167.06 611.36,2159.56 618.55,2151.96 625.73,2144.29 632.92,2136.54 640.11,2128.74 647.29,2120.89 654.48,2113.01 661.67,2105.11 668.86,2097.21 676.04,2089.31 683.23,2081.44 690.42,2073.60 697.60,2065.81 704.79,2058.08 711.98,2050.42 719.16,2042.84 726.35,2035.36 733.54,2027.98 740.73,2020.71 776.66,1997.40 776.66,2332.12 769.47,2333.05 762.29,2333.98 755.10,2334.91 747.91,2335.83 740.73,2336.76 733.54,2337.68 726.35,2338.60 719.16,2339.52 711.98,2340.45 704.79,2341.37 697.60,2342.29 690.42,2343.20 683.23,2344.13 676.04,2345.05 668.86,2345.97 661.67,2346.89 654.48,2347.81 647.29,2348.74 640.11,2349.67 632.92,2350.60 625.73,2351.53 618.55,2352.47 611.36,2353.41 604.17,2354.35 596.99,2355.30 589.80,2356.26 582.61,2357.22 575.42,2358.18 568.24,2359.15 561.05,2360.13 553.86,2361.11 546.68,2362.10 539.49,2363.10 532.30,2364.10 525.12,2365.12 517.93,2366.14 510.74,2367.17 503.55,2368.20 496.37,2369.25 489.18,2370.30 481.99,2371.37 474.81,2372.43 467.62,2373.51 460.43,2374.59 453.24,2375.68 446.06,2376.77 438.87,2377.87 431.68,2378.96 424.50,2380.06 417.31,2381.16 410.12,2382.25 402.94,2383.34 395.75,2384.42 388.56,2385.50 381.38,2386.56 374.19,2387.62 367.00,2388.66 359.81,2389.68 352.63,2390.69 345.44,2391.68 338.25,2392.65 331.07,2393.60 323.88,2394.52 316.69,2395.42 309.50,2396.30 302.32,2397.15 295.13,2397.98 287.94,2398.78 280.76,2399.56 273.57,2400.30 266.38,2401.02 259.20,2401.72 252.01,2402.39 244.82,2403.03 237.63,2403.65 230.45,2404.24 223.26,2404.81 216.07,2405.36 208.89,2405.88 201.70,2406.37" fill="#ebebeb"/>
<polyline points="201.70,2408.57 208.89,2408.08 216.07,2407.56 223.26,2407.01 230.45,2406.44 237.63,2405.85 244.82,2405.23 252.01,2404.59 259.20,2403.92 266.38,2403.22 273.57,2402.50 280.76,2401.76 287.94,2400.98 295.13,2400.18" fill="none" stroke="#fff" stroke-width="3"/>
<polyline points="201.70,2391.98 208.89,2391.18 216.07,2390.35 223.26,2389.49 230.45,2388.61 237.63,2387.70 244.82,2386.76 252.01,2385.79 259.20,2384.79 266.38,2383.76 273.57,2382.70 280.76,2381.60 287.94,2380.47 295.13,2379.31 302.32,2378.11 309.50,2376.87 316.69,2375.59 323.88,2374.28 331.07,2372.92 338.25,2371.53 345.44,2370.09 352.63,2368.61 359.81,2367.09 367.00,2365.53 374.19,2363.91 381.38,2362.26 388.56,2360.55 395.75,2358.79 402.94,2356.99 410.12,2355.13 417.31,2353.23 424.50,2351.27 431.68,2349.26 438.87,2347.19 446.06,2345.07 453.24,2342.89 460.43,2340.65 467.62,2338.36 474.81,2336.00 481.99,2333.59 489.18,2331.11 496.37,2328.58 503.55,2325.98 510.74,2323.32 517.93,2320.59 525.12,2317.80 532.30,2314.94 539.49,2312.02 546.68,2309.04 553.86,2305.98 561.05,2302.86 568.24,2299.68 575.42,2296.42 582.61,2293.10 589.80,2289.71 596.99,2286.25 604.17,2282.73 611.36,2279.13 618.55,2275.48 625.73,2271.75 632.92,2267.96 640.11,2264.10 647.29,2260.18 654.48,2256.19 661.67,2252.14 668.86,2248.03 676.04,2243.85 683.23,2239.62 690.42,2235.32 697.60,2230.97 704.79,2226.56 711.98,2222.10 719.16,2217.59 726.35,2213.02 733.54,2208.40 740.73,2203.74 747.91,2199.03 755.10,2194.28 762.29,2189.49 769.47,2184.66 776.66,2179.80" fill="none" stroke="#000" stroke-width="5.2"/>
<text transform="translate(115.82,2429.04)" font-size="40"><tspan font-size="40.00">0.0</tspan></text>
<text transform="translate(116.70,2370.26)" font-size="40"><tspan font-size="40.00">0.1</tspan></text>
<text transform="translate(116.51,2311.48)" font-size="40"><tspan font-size="40.00">0.2</tspan></text>
<text transform="translate(115.86,2252.70)" font-size="40"><tspan font-size="40.00">0.3</tspan></text>
<text transform="translate(114.93,2193.92)" font-size="40"><tspan font-size="40.00">0.4</tspan></text>
<text transform="translate(115.86,2135.14)" font-size="40"><tspan font-size="40.00">0.5</tspan></text>
<text transform="translate(115.49,2076.36)" font-size="40"><tspan font-size="40.00">0.6</tspan></text>
<text transform="translate(115.45,2017.58)" font-size="40"><tspan font-size="40.00">0.7</tspan></text>
<text transform="translate(115.82,1958.80)" font-size="40"><tspan font-size="40.00">0.8</tspan></text>
<text transform="translate(115.94,1900.02)" font-size="40"><tspan font-size="40.00">0.9</tspan></text>
<text transform="translate(115.82,1841.24)" font-size="40"><tspan font-size="40.00">1.0</tspan></text>
<text transform="translate(177.75,2476.90)" font-size="43"><tspan font-size="43.00">0</tspan></text>
<text transform="translate(251.51,2476.90)" font-size="43"><tspan font-size="43.00">2</tspan></text>
<text transform="translate(324.71,2476.90)" font-size="43"><tspan font-size="43.00">4</tspan></text>
<text transform="translate(398.03,2476.90)" font-size="43"><tspan font-size="43.00">6</tspan></text>
<text transform="translate(471.83,2476.90)" font-size="43"><tspan font-size="43.00">8</tspan></text>
<text transform="translate(533.53,2476.90)" font-size="43"><tspan font-size="43.00">10</tspan></text>
<text transform="translate(607.42,2476.90)" font-size="43"><tspan font-size="43.00">12</tspan></text>
<text transform="translate(680.09,2476.90)" font-size="43"><tspan font-size="43.00">14</tspan></text>
<text transform="translate(753.91,2476.90)" font-size="43"><tspan font-size="43.00">16</tspan></text>
<text transform="translate(333.27,2535.60) scale(0.9788,1)" font-size="40"><tspan font-size="40.00">MO signal (mV/V)</tspan></text>
<text transform="translate(402.15,1928.00) scale(1.0266,1)" font-size="47.5"><tspan font-size="47.50" font-style="italic">OR=1.19; p=0.007</tspan></text>
<text transform="translate(82.00,2165.71) rotate(-90)" font-size="42"><tspan font-size="42.00">P</tspan><tspan font-size="31.08" dy="8.40">Hz</tspan><tspan font-size="42.00" dy="-8.40">+</tspan></text>
</svg>
</body></html>
